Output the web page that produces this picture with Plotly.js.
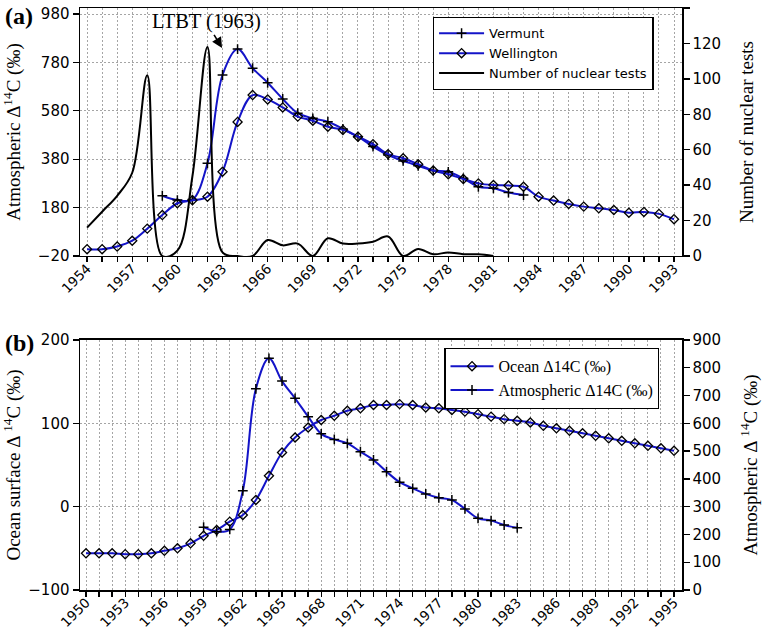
<!DOCTYPE html>
<html>
<head>
<meta charset="utf-8">
<script src="https://cdn.plot.ly/plotly-3.0.1.min.js"></script>
<style>html,body{margin:0;padding:0;background:#fff;}#chart{width:762px;height:630px;}</style>
</head>
<body>
<div id="chart"></div>
<script>
// ---- Panel (a) data ----
const yearsWellington = [1954,1955,1956,1957,1958,1959,1960,1961,1962,1963,1964,1965,1966,1967,1968,1969,1970,1971,1972,1973,1974,1975,1976,1977,1978,1979,1980,1981,1982,1983,1984,1985,1986,1987,1988,1989,1990,1991,1992,1993];
const wellington = [8,8,19,43,93,149,198,210,225,328,534,645,627,594,556,539,514,501,473,442,401,384,359,333,318,298,280,273,271,266,225,209,195,184,177,170,159,162,154,132];
const yearsVermunt = [1959,1960,1961,1962,1963,1964,1965,1966,1967,1968,1969,1970,1971,1972,1973,1974,1975,1976,1977,1978,1979,1980,1981,1982,1983];
const vermunt = [229,211,213,363,728,835,756,696,629,570,549,535,505,473,432,397,373,353,333,328,301,266,260,242,232];
const yearsTests = [1954,1955,1956,1957,1958,1959,1960,1961,1962,1963,1964,1965,1966,1967,1968,1969,1970,1971,1972,1973,1974,1975,1976,1977,1978,1979,1980,1981];
const nuclearTests = [16,25,34,47,102,0,3,45,118,2,0,0,9,6,7,0,10,7,7,8,11,0,4,1,2,1,1,0];
const ticksA = [-20,180,380,580,780,980];
const ticksTests = [0,20,40,60,80,100,120,140];

// ---- Panel (b) data ----
const yearsOcean = [1950,1951,1952,1953,1954,1955,1956,1957,1958,1959,1960,1961,1962,1963,1964,1965,1966,1967,1968,1969,1970,1971,1972,1973,1974,1975,1976,1977,1978,1979,1980,1981,1982,1983,1984,1985,1986,1987,1988,1989,1990,1991,1992,1993,1994,1995];
const ocean = [-56,-56,-56,-57,-57,-56,-53,-50,-44,-35,-28,-18,-10,8,37,65,83,95,104,109,115,118,122,122,123,122,119,118,116,114,111,108,105,103,101,97,94,91,88,85,82,79,76,73,70,67];
const yearsAtmos = [1959,1960,1961,1962,1963,1964,1965,1966,1967,1968,1969,1970,1971,1972,1973,1974,1975,1976,1977,1978,1979,1980,1981,1982,1983];
const atmos = [226,210,218,357,724,834,752,690,624,562,542,528,498,468,426,388,366,346,332,324,292,258,250,234,224];

const BLUE = '#1414c8';
const SANS = 'DejaVu Sans, sans-serif';
const SERIF = 'Liberation Serif, Times New Roman, serif';
const GRID = 'rgb(165,165,165)';
const DOT = '2px,2px';

const traces = [
  {x: yearsVermunt, y: vermunt, name: 'Vermunt', xaxis:'x', yaxis:'y', mode:'lines+markers',
   line:{color:BLUE, width:2, shape:'spline'},
   marker:{symbol:'cross-thin-open', size:7, color:'black', line:{width:1.5, color:'black'}}, legend:'legend'},
  {x: yearsWellington, y: wellington, name: 'Wellington', xaxis:'x', yaxis:'y', mode:'lines+markers',
   line:{color:BLUE, width:2, shape:'spline'},
   marker:{symbol:'diamond-open', size:7, color:'black', line:{width:1.3, color:'black'}}, legend:'legend'},
  {x: yearsTests, y: nuclearTests, name: 'Number of nuclear tests', xaxis:'x', yaxis:'y2', mode:'lines',
   line:{color:'black', width:2, shape:'spline'}, legend:'legend'},
  {x: yearsOcean, y: ocean, name: 'Ocean Δ14C (‰)', xaxis:'x2', yaxis:'y3', mode:'lines+markers',
   line:{color:BLUE, width:2, shape:'spline'},
   marker:{symbol:'diamond-open', size:7, color:'black', line:{width:1.3, color:'black'}}, legend:'legend2'},
  {x: yearsAtmos, y: atmos, name: 'Atmospheric Δ14C (‰)', xaxis:'x2', yaxis:'y4', mode:'lines+markers',
   line:{color:BLUE, width:2, shape:'spline'},
   marker:{symbol:'cross-thin-open', size:7, color:'black', line:{width:1.5, color:'black'}}, legend:'legend2'}
];

const tickFont = {family: SANS, size: 15, color: 'black'};
const xTickFont = {family: SANS, size: 13.5, color: 'black'};
const titleFont = {family: SERIF, size: 19, color: 'black'};

function xax(anchor, range, tick0) {
  return {
    anchor: anchor, domain:[0,1], range: range, tick0: tick0, dtick: 3, tickangle: -45,
    ticks:'outside', ticklen:5, tickwidth:1.3, tickcolor:'black', ticklabelstandoff: -7,
    showline:true, linecolor:'black', linewidth:1.5, mirror:true,
    showgrid:true, gridcolor:GRID, griddash:DOT, gridwidth:1,
    minor:{dtick:1, tick0:tick0, ticks:'outside', ticklen:5, tickcolor:'black', tickwidth:1.3, showgrid:true, gridcolor:GRID, griddash:DOT, gridwidth:1},
    tickfont: xTickFont, zeroline:false, fixedrange:true
  };
}

const layout = {
  width: 762, height: 630,
  margin: {l:80, r:80, t:8, b:40},
  paper_bgcolor:'white', plot_bgcolor:'white',
  showlegend: true,
  xaxis: xax('y', [1953.53, 1993.53], 1954),
  xaxis2: xax('y3', [1949.54, 1995.61], 1950),
  yaxis: {
    domain:[0.5739, 1], anchor:'x', range:[-20, 1004.8], tickmode:'array', tickvals: ticksA,
    ticks:'outside', ticklen:6, tickwidth:1.3, tickcolor:'black',
    showline:true, linecolor:'black', linewidth:1.5,
    showgrid:true, gridcolor:GRID, griddash:DOT, zeroline:false, tickfont: tickFont,
    title:{text:'Atmospheric Δ<sup>14</sup>C (‰)', font: titleFont, standoff: 12}
  },
  yaxis2: {
    overlaying:'y', side:'right', anchor:'x', range:[0,140], tickmode:'array', tickvals: ticksTests,
    ticks:'outside', ticklen:6, tickwidth:1.3, tickcolor:'black',
    showline:true, linecolor:'black', linewidth:1.5,
    showgrid:false, zeroline:false, tickfont: tickFont,
    title:{text:'Number of nuclear tests', font: titleFont, standoff: 19}
  },
  yaxis3: {
    domain:[0, 0.4296], anchor:'x2', range:[-100, 200], dtick:100, tick0:-100,
    ticks:'outside', ticklen:6, tickwidth:1.3, tickcolor:'black',
    showline:true, linecolor:'black', linewidth:1.5,
    showgrid:true, gridcolor:GRID, griddash:DOT, zeroline:false, tickfont: tickFont,
    title:{text:'Ocean surface Δ <sup>14</sup>C (‰)', font: titleFont, standoff: 10}
  },
  yaxis4: {
    overlaying:'y3', side:'right', anchor:'x2', range:[0, 900], dtick:100, tick0:0,
    ticks:'outside', ticklen:6, tickwidth:1.3, tickcolor:'black',
    showline:true, linecolor:'black', linewidth:1.5,
    showgrid:false, zeroline:false, tickfont: tickFont,
    title:{text:'Atmospheric Δ <sup>14</sup>C (‰)', font: titleFont, standoff: 25}
  },
  legend: {
    x: 0.586, y: 0.9845, xanchor:'left', yanchor:'top', itemwidth: 45,
    bgcolor:'white', bordercolor:'black', borderwidth:1.3,
    font:{family: SANS, size: 13, color:'black'}, tracegroupgap: 0
  },
  legend2: {
    x: 0.605, y: 0.4158, xanchor:'left', yanchor:'top', itemwidth: 43,
    bgcolor:'white', bordercolor:'black', borderwidth:1.3,
    font:{family: SERIF, size: 16, color:'black'}
  },
  annotations: [
    {text:'<b>(a)</b>', xref:'paper', yref:'paper', x:-0.128, y:0.986, xanchor:'left', yanchor:'middle',
     showarrow:false, font:{family: SERIF, size: 24, color:'black'}},
    {text:'<b>(b)</b>', xref:'paper', yref:'paper', x:-0.128, y:0.4244, xanchor:'left', yanchor:'middle',
     showarrow:false, font:{family: SERIF, size: 24, color:'black'}},
    {text:'LTBT (1963)', xref:'x', yref:'y', x:1962.97, y:840, ax:-16, ay:-26,
     showarrow:true, arrowhead:2, arrowsize:1.3, arrowwidth:1.6, arrowcolor:'black', standoff:0,
     font:{family: SERIF, size: 20.5, color:'black'}}
  ]
};

Plotly.newPlot('chart', traces, layout, {displayModeBar:false, staticPlot:true});
</script>
</body>
</html>
